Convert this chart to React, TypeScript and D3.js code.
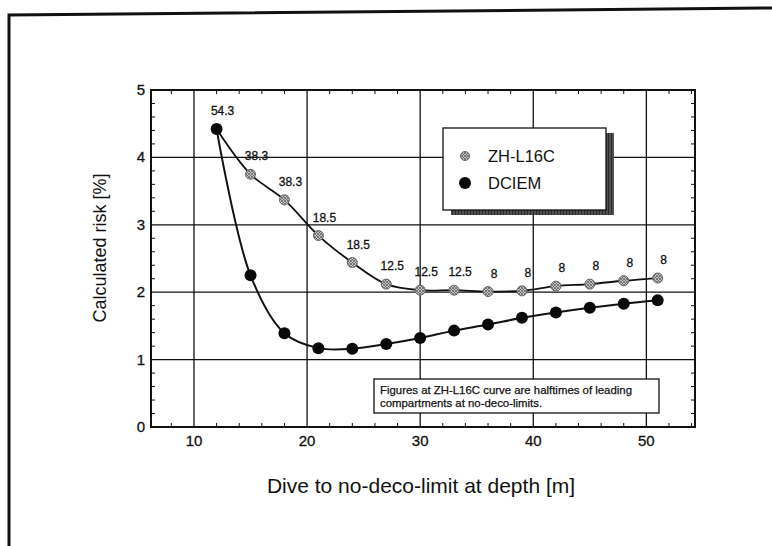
import React from "react";
import * as d3 from "d3";

// dive depth [m] for each no-deco-limit dive
const depths = [12, 15, 18, 21, 24, 27, 30, 33, 36, 39, 42, 45, 48, 51];
// calculated risk [%]
const zhl16c = [4.42, 3.75, 3.37, 2.84, 2.44, 2.12, 2.03, 2.03, 2.01, 2.02, 2.09, 2.12, 2.17, 2.21];
const dciem = [4.42, 2.25, 1.39, 1.17, 1.16, 1.23, 1.32, 1.43, 1.52, 1.62, 1.7, 1.77, 1.83, 1.88];
// halftimes of leading compartments (labels on the ZH-L16C curve)
const halftimes = ["54.3", "38.3", "38.3", "18.5", "18.5", "12.5", "12.5", "12.5", "8", "8", "8", "8", "8", "8"];

const xTicks = [10, 20, 30, 40, 50];
const yTicks = [0, 1, 2, 3, 4, 5];
const seriesNames = ["ZH-L16C", "DCIEM"];

const W = 772;
const H = 546;
const FONT = "'Liberation Sans', Arial, Helvetica, sans-serif";

export default function App() {
  const x = d3.scaleLinear().domain([6.2, 54.3]).range([151, 695]);
  const y = d3.scaleLinear().domain([0, 5]).range([427, 90]);
  const [x0, x1] = x.range();
  const [y0, y1] = y.range();

  const line = d3
    .line<number>()
    .x((_, i) => x(depths[i]))
    .y((d) => y(d))
    .curve(d3.curveCatmullRom.alpha(0.5));

  // minor ticks: every 2 m on x, every 0.2 % on y
  const xMinor = d3.range(8, 54.1, 2).filter((v) => v % 10 !== 0);
  const yMinor = d3.range(0.2, 5, 0.2).filter((v) => Math.abs(v - Math.round(v)) > 0.01);

  const legendX = 443;
  const legendY = 128;

  return (
    <svg
      width={W}
      height={H}
      style={{ position: "absolute", left: 0, top: 0, background: "#fff" }}
      fontFamily={FONT}
    >
      <defs>
        <pattern id="hatch" width="3" height="3" patternUnits="userSpaceOnUse">
          <rect width="3" height="3" fill="#c4c4c4" />
          <path d="M0,0 L3,3 M3,0 L0,3" stroke="#555" strokeWidth="0.7" />
        </pattern>
        <pattern id="shade" width="3" height="3" patternUnits="userSpaceOnUse">
          <rect width="3" height="3" fill="#2a2a2a" />
          <path d="M1,0 L1,3" stroke="#8a8a8a" strokeWidth="0.8" />
        </pattern>
      </defs>

      {/* page frame (scanned, slightly tilted) */}
      <path d="M9,546 L9,15 L772,8" fill="none" stroke="#111" strokeWidth={3} />

      {/* grid */}
      {xTicks.map((t) => (
        <line key={"gx" + t} x1={x(t)} x2={x(t)} y1={y0} y2={y1} stroke="#111" strokeWidth={1.3} />
      ))}
      {yTicks.slice(1, -1).map((t) => (
        <line key={"gy" + t} x1={x0} x2={x1} y1={y(t)} y2={y(t)} stroke="#111" strokeWidth={1.3} />
      ))}

      {/* minor ticks */}
      {xMinor.map((t) => (
        <g key={"mx" + t}>
          <line x1={x(t)} x2={x(t)} y1={y0} y2={y0 - 4} stroke="#111" strokeWidth={1} />
          <line x1={x(t)} x2={x(t)} y1={y1} y2={y1 + 4} stroke="#111" strokeWidth={1} />
        </g>
      ))}
      {yMinor.map((t) => (
        <g key={"my" + t}>
          <line x1={x0} x2={x0 + 4} y1={y(t)} y2={y(t)} stroke="#111" strokeWidth={1} />
          <line x1={x1} x2={x1 - 4} y1={y(t)} y2={y(t)} stroke="#111" strokeWidth={1} />
        </g>
      ))}

      {/* plot frame */}
      <rect x={x0} y={y1} width={x1 - x0} height={y0 - y1} fill="none" stroke="#111" strokeWidth={2} />

      {/* tick labels */}
      {xTicks.map((t) => (
        <text key={"tx" + t} x={x(t)} y={y0 + 19} textAnchor="middle" fontSize={15} fill="#111" stroke="#111" strokeWidth={0.3}>
          {t}
        </text>
      ))}
      {yTicks.map((t) => (
        <text key={"ty" + t} x={x0 - 6} y={y(t) + 5} textAnchor="end" fontSize={15} fill="#111" stroke="#111" strokeWidth={0.3}>
          {t}
        </text>
      ))}

      {/* axis titles */}
      <text x={421} y={493} textAnchor="middle" fontSize={21} fill="#111">
        Dive to no-deco-limit at depth [m]
      </text>
      <text
        transform="translate(106,248) rotate(-90)"
        textAnchor="middle"
        fontSize={18}
        fill="#111"
      >
        Calculated risk [%]
      </text>

      {/* curves */}
      <path d={line(zhl16c) || ""} fill="none" stroke="#111" strokeWidth={1.8} />
      <path d={line(dciem) || ""} fill="none" stroke="#111" strokeWidth={2} />

      {zhl16c.map((v, i) => (
        <circle key={"zp" + i} cx={x(depths[i])} cy={y(v)} r={5} fill="url(#hatch)" stroke="#666" strokeWidth={1} />
      ))}
      {dciem.map((v, i) => (
        <circle key={"dp" + i} cx={x(depths[i])} cy={y(v)} r={6} fill="#0a0a0a" />
      ))}

      {/* halftime labels */}
      {halftimes.map((h, i) => (
        <text
          key={"h" + i}
          x={x(depths[i]) + 6}
          y={y(zhl16c[i]) - 14}
          textAnchor="middle"
          fontSize={12}
          fill="#111"
          stroke="#111"
          strokeWidth={0.3}
        >
          {h}
        </text>
      ))}

      {/* legend */}
      <rect x={legendX + 8} y={legendY + 5} width={163} height={82} fill="url(#shade)" />
      <rect x={legendX} y={legendY} width={163} height={82} fill="#fff" stroke="#111" strokeWidth={1.3} />
      {seriesNames.map((name, i) => (
        <g key={name} transform={`translate(${legendX + 22},${legendY + 28 + i * 27})`}>
          {i === 0 ? (
            <circle r={4.5} fill="url(#hatch)" stroke="#666" strokeWidth={1} />
          ) : (
            <circle r={6} fill="#0a0a0a" />
          )}
          <text x={23} y={6} fontSize={16.5} fill="#111">
            {name}
          </text>
        </g>
      ))}

      {/* note box */}
      <rect x={374} y={379} width={285} height={34} fill="#fff" stroke="#111" strokeWidth={1.3} />
      <text x={380} y={394} fontSize={11.4} fill="#111" stroke="#111" strokeWidth={0.25}>
        Figures at ZH-L16C curve are halftimes of leading
      </text>
      <text x={380} y={407} fontSize={11.4} fill="#111" stroke="#111" strokeWidth={0.25}>
        compartments at no-deco-limits.
      </text>
    </svg>
  );
}
